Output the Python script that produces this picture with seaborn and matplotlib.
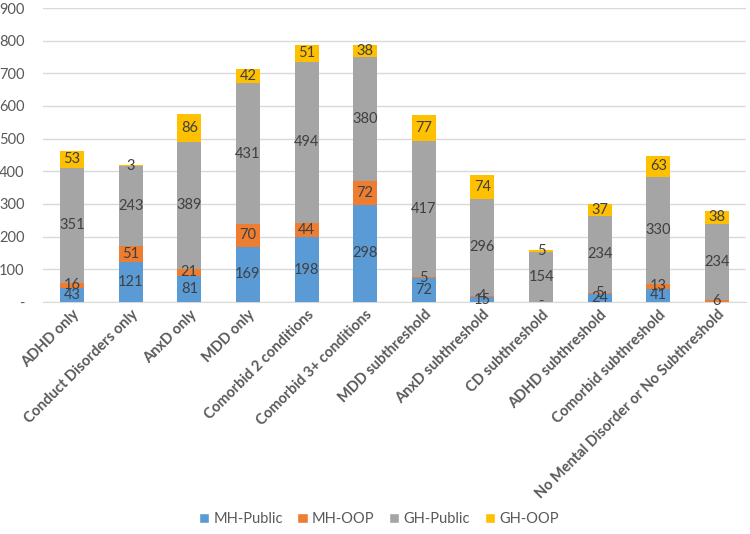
import numpy as np
import pandas as pd
import seaborn as sns
import matplotlib.pyplot as plt
from matplotlib.patches import Patch
from matplotlib.ticker import FuncFormatter

# data
categories = ['ADHD only', 'Conduct Disorders only', 'AnxD only', 'MDD only',
              'Comorbid 2 conditions', 'Comorbid 3+ conditions', 'MDD subthreshold',
              'AnxD subthreshold', 'CD subthreshold', 'ADHD subthreshold',
              'Comorbid subthreshold', 'No Mental Disorder or No Subthreshold']
mh_public = [43, 121, 81, 169, 198, 298, 72, 15, 0, 24, 41, np.nan]
mh_oop = [16, 51, 21, 70, 44, 72, 5, 4, np.nan, 5, 13, 6]
gh_public = [351, 243, 389, 431, 494, 380, 417, 296, 154, 234, 330, 234]
gh_oop = [53, 3, 86, 42, 51, 38, 77, 74, 5, 37, 63, 38]

series = ['MH-Public', 'MH-OOP', 'GH-Public', 'GH-OOP']
colors = ['#5B9BD5', '#ED7D31', '#A5A5A5', '#FFC000']

df = pd.DataFrame({'category': categories, 'MH-Public': mh_public, 'MH-OOP': mh_oop,
                   'GH-Public': gh_public, 'GH-OOP': gh_oop})
vals = df[series].fillna(0)
cum = vals.cumsum(axis=1)

sns.set_style("white")
plt.rcParams['font.family'] = ['Lato', 'DejaVu Sans']

fig = plt.figure(figsize=(7.5, 5.34), dpi=100)
ax = fig.add_axes([0.057, 0.4345, 0.938, 0.5505])

# stacked bars: draw cumulative totals from the top layer down
for name, col in reversed(list(zip(series, colors))):
    sns.barplot(x=df['category'], y=cum[name], color=col, width=0.41,
                saturation=1, ax=ax, zorder=3, order=categories, linewidth=0)

# segment labels
for i in range(len(categories)):
    base = 0
    for name in series:
        raw = df[name].iloc[i]
        v = 0 if pd.isna(raw) else raw
        if not pd.isna(raw):
            txt = '-' if v == 0 else f'{int(v)}'
            ax.text(i, base + v / 2, txt, ha='center', va='center',
                    fontsize=10.5, color='#404040', zorder=5)
        base += v

ax.set_ylim(0, 900)
ax.set_xlim(-0.5, len(categories) - 0.5)
ax.set_yticks(range(0, 901, 100))
ax.yaxis.set_major_formatter(FuncFormatter(lambda v, p: '-' if v == 0 else f'{int(v)}'))
ax.grid(axis='y', color='#D9D9D9', linewidth=1, zorder=0)
ax.set_axisbelow(True)
for s in ['top', 'right', 'left']:
    ax.spines[s].set_visible(False)
ax.spines['bottom'].set_color('#D9D9D9')
ax.set_xlabel('')
ax.set_ylabel('')
ax.tick_params(axis='y', length=0, labelsize=10.5, labelcolor='#595959', pad=13)
ax.tick_params(axis='x', length=0, labelsize=10.5, labelcolor='#595959', pad=4)
ax.set_xticks(range(len(categories)))
ax.set_xticklabels(categories, rotation=45, ha='right', rotation_mode='anchor',
                   fontweight='bold')

handles = [Patch(facecolor=c, label=n) for n, c in zip(series, colors)]
fig.legend(handles=handles, loc='center', bbox_to_anchor=(0.505, 0.028), ncol=4,
           frameon=False, handlelength=0.7, handleheight=0.7, handletextpad=0.3,
           columnspacing=1.0, prop={'size': 10.5}, labelcolor='#595959')

fig.savefig('out.png', dpi=100)
